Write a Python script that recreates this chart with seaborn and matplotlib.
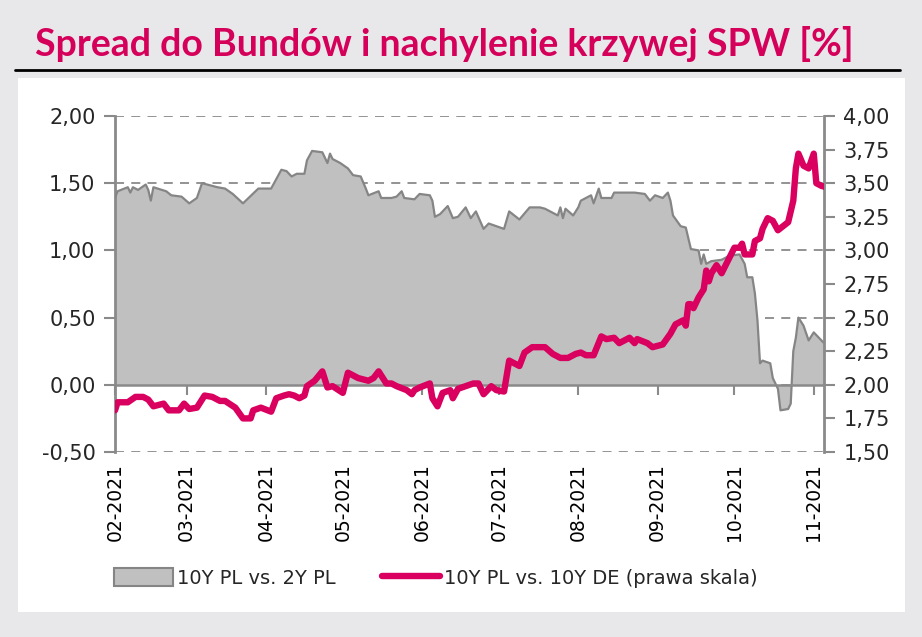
import numpy as np
import pandas as pd
import matplotlib
matplotlib.use("Agg")
import matplotlib.pyplot as plt
import matplotlib.dates as mdates
import matplotlib.ticker as mticker
from matplotlib.patches import Patch
from matplotlib.lines import Line2D
import seaborn as sns

# ---------------- data (days since 2021-02-01) ----------------
slope_days = [0, 1, 5, 6, 7, 9, 12, 13, 14, 15, 20, 22, 26, 29, 32, 34, 40, 43, 46, 50,
              56, 61, 65, 67, 69, 71, 74, 75, 77, 81, 83, 84, 85, 88, 91, 93, 96, 98, 99, 103,
              104, 108, 110, 112, 113, 117, 119, 123, 124, 125, 127, 130, 132, 134, 137, 139, 141, 144, 146, 152,
              154, 158, 162, 166, 168, 173, 174, 175, 176, 179, 181, 182, 186, 187, 189, 190, 194, 195, 203, 207,
              209, 211, 214, 216, 217, 218, 221, 223, 224, 225, 228, 229, 230, 231, 233, 237, 240, 244, 246, 247,
              249, 250, 251, 252, 253, 256, 257, 259, 260, 263, 264, 265, 266, 267, 269, 271, 273, 275, 277]
slope_vals = [1.39, 1.44, 1.47, 1.43, 1.47, 1.45, 1.49, 1.45, 1.37, 1.47, 1.44, 1.41, 1.40, 1.35, 1.39, 1.50, 1.47, 1.46, 1.42, 1.35,
              1.46, 1.46, 1.60, 1.59, 1.55, 1.57, 1.57, 1.67, 1.74, 1.73, 1.65, 1.72, 1.68, 1.65, 1.61, 1.56, 1.55, 1.46, 1.41, 1.44,
              1.39, 1.39, 1.40, 1.44, 1.39, 1.38, 1.42, 1.41, 1.37, 1.25, 1.27, 1.33, 1.24, 1.25, 1.32, 1.24, 1.29, 1.16, 1.20, 1.16,
              1.29, 1.23, 1.32, 1.32, 1.31, 1.26, 1.32, 1.24, 1.31, 1.26, 1.32, 1.37, 1.41, 1.35, 1.46, 1.39, 1.39, 1.43, 1.43, 1.42,
              1.37, 1.41, 1.39, 1.43, 1.37, 1.26, 1.18, 1.17, 1.09, 1.01, 1.00, 0.90, 0.97, 0.90, 0.92, 0.93, 0.96, 0.97, 0.90, 0.80,
              0.80, 0.68, 0.48, 0.16, 0.18, 0.16, 0.05, -0.03, -0.19, -0.18, -0.14, 0.25, 0.35, 0.50, 0.44, 0.33, 0.39, 0.35, 0.31]

spread_days = [0, 1, 5, 8, 11, 13, 15, 19, 21, 25, 27, 29, 32, 35, 38, 41, 43, 47, 50, 53,
               54, 57, 61, 63, 66, 68, 70, 72, 74, 75, 78, 81, 83, 85, 89, 91, 95, 99, 101, 103,
               106, 108, 110, 114, 116, 117, 119, 123, 124, 126, 128, 131, 132, 134, 140, 142, 144, 147, 149, 152,
               154, 158, 160, 163, 168, 171, 174, 177, 180, 182, 184, 187, 190, 192, 195, 197, 201, 203, 204, 208,
               210, 214, 217, 219, 222, 223, 224, 225, 226, 228, 230, 231, 232, 233, 235, 237, 242, 244, 245, 246,
               249, 250, 252, 253, 255, 257, 259, 263, 265, 266, 267, 269, 271, 273, 274, 276, 278]
spread_vals = [1.81, 1.87, 1.87, 1.91, 1.91, 1.89, 1.84, 1.86, 1.81, 1.81, 1.86, 1.82, 1.83, 1.92, 1.91, 1.88, 1.88, 1.83, 1.75, 1.75,
               1.81, 1.83, 1.80, 1.90, 1.92, 1.93, 1.92, 1.90, 1.92, 1.99, 2.03, 2.10, 1.98, 1.99, 1.94, 2.09, 2.05, 2.03, 2.05, 2.10,
               2.01, 2.01, 1.99, 1.96, 1.93, 1.96, 1.98, 2.01, 1.90, 1.84, 1.94, 1.96, 1.90, 1.97, 2.01, 2.01, 1.93, 1.99, 1.96, 1.95,
               2.18, 2.14, 2.24, 2.28, 2.28, 2.23, 2.20, 2.20, 2.23, 2.24, 2.22, 2.22, 2.36, 2.34, 2.35, 2.31, 2.35, 2.31, 2.34, 2.31,
               2.28, 2.30, 2.38, 2.45, 2.48, 2.44, 2.60, 2.60, 2.57, 2.65, 2.71, 2.85, 2.77, 2.83, 2.89, 2.83, 3.02, 3.02, 3.05, 2.97,
               2.97, 3.07, 3.09, 3.16, 3.24, 3.22, 3.15, 3.21, 3.37, 3.61, 3.72, 3.63, 3.61, 3.72, 3.50, 3.48, 3.47]

start_date = "2021-02-01"
end_date = "2021-11-05"
month_labels_fmt = "%m-%Y"
title = "Spread do Bundów i nachylenie krzywej SPW [%]"
label_slope = "10Y PL vs. 2Y PL"
label_spread = "10Y PL vs. 10Y DE (prawa skala)"

# ---------------- build frames ----------------
t0 = pd.Timestamp(start_date)
df_slope = pd.DataFrame({"date": t0 + pd.to_timedelta(slope_days, unit="D"), "value": slope_vals})
df_spread = pd.DataFrame({"date": t0 + pd.to_timedelta(spread_days, unit="D"), "value": spread_vals})

PINK = "#d9005f"
GRAY_FILL = "#c0c0c0"
GRAY_LINE = "#858585"
AXIS_GRAY = "#8a8a8a"

sns.set_style("white")
plt.rcParams["font.family"] = ["DejaVu Sans"]

fig = plt.figure(figsize=(9.22, 6.37), dpi=100)
fig.patch.set_facecolor("#e8e8ea")

# white panel
panel = fig.add_axes([18 / 922, 1 - 612 / 637, (905 - 18) / 922, (612 - 78) / 637])
panel.set_facecolor("white")
panel.set_xticks([]); panel.set_yticks([])
for s in panel.spines.values():
    s.set_visible(False)
panel.set_zorder(0)

# title + rule
fig.text(35 / 922, 1 - 44 / 637, title, color="#d4005a", fontsize=27, fontweight="bold",
         family=["Lato", "DejaVu Sans"], va="center", ha="left")
fig.add_artist(Line2D([15 / 922, 900 / 922], [1 - 70 / 637, 1 - 70 / 637], color="black", lw=2))

ax = fig.add_axes([115 / 922, 1 - 452 / 637, (824 - 115) / 922, (452 - 116) / 637])
ax.set_zorder(1)
ax.patch.set_alpha(0)

# gridlines (behind)
ax.set_ylim(-0.5, 2.0)
ax.set_yticks(np.arange(-0.5, 2.01, 0.5))
ax.yaxis.grid(True, linestyle=(0, (5, 4)), color=AXIS_GRAY, lw=1.3, zorder=0)
ax.set_axisbelow(True)

ax.fill_between(df_slope["date"], 0, df_slope["value"], color=GRAY_FILL, lw=0, zorder=2)
sns.lineplot(data=df_slope, x="date", y="value", ax=ax, color=GRAY_LINE, lw=1.6, zorder=3, legend=False)
ax.axhline(0, color=AXIS_GRAY, lw=1.8, zorder=4)

ax.set_xlim(pd.Timestamp(start_date), pd.Timestamp(end_date))
ax.xaxis.set_major_locator(mdates.MonthLocator())
ax.xaxis.set_major_formatter(mdates.DateFormatter(month_labels_fmt))
ax.tick_params(axis="x", length=0, labelsize=13.5, labelrotation=90, pad=8, labelcolor="black")
fmt = mticker.FuncFormatter(lambda v, p: f"{v:.2f}".replace(".", ","))
ax.yaxis.set_major_formatter(fmt)
ax.tick_params(axis="y", left=True, length=8, width=1.5, color=AXIS_GRAY, labelsize=15, pad=6)
ax.set_xlabel(""); ax.set_ylabel("")
for k in ["top", "right", "bottom"]:
    ax.spines[k].set_visible(False)
ax.spines["left"].set_color(AXIS_GRAY)
ax.spines["left"].set_linewidth(2)

# tick marks on the zero line
sec = ax.secondary_xaxis(0.2)
sec.xaxis.set_major_locator(mdates.MonthLocator())
sec.tick_params(axis="x", length=7, width=1.5, color=AXIS_GRAY, labelbottom=False, direction="out")
for k in sec.spines:
    sec.spines[k].set_visible(False)

ax2 = ax.twinx()
ax2.set_ylim(1.5, 4.0)
ax2.set_yticks(np.arange(1.5, 4.01, 0.25))
ax2.yaxis.set_major_formatter(fmt)
sns.lineplot(data=df_spread, x="date", y="value", ax=ax2, color=PINK, lw=4.6, zorder=5, legend=False,
             solid_joinstyle="round", solid_capstyle="round")
ax2.set_xlabel(""); ax2.set_ylabel("")
ax2.tick_params(axis="y", right=True, length=8, width=1.5, color=AXIS_GRAY, labelsize=15, pad=6)
for k in ["top", "left", "bottom"]:
    ax2.spines[k].set_visible(False)
ax2.spines["right"].set_color(AXIS_GRAY)
ax2.spines["right"].set_linewidth(2)
ax2.grid(False)

handles = [Patch(facecolor=GRAY_FILL, edgecolor=GRAY_LINE, lw=1.5, label=label_slope),
           Line2D([0], [0], color=PINK, lw=4.6, label=label_spread)]
fig.legend(handles=handles, loc="center", bbox_to_anchor=(436 / 922, 1 - 578 / 637), ncol=2,
           frameon=False, fontsize=14, handlelength=3.0, handleheight=1.0, columnspacing=2.4,
           handletextpad=0.2)

fig.savefig("out.png", dpi=100, facecolor=fig.get_facecolor())
